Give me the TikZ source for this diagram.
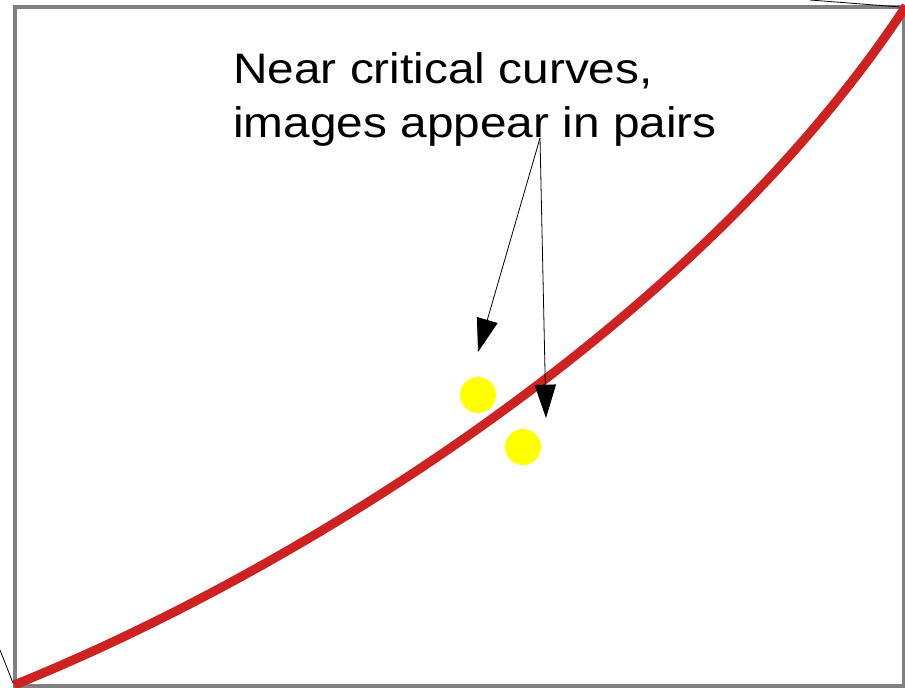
\documentclass[tikz,border=0pt]{standalone}
\usepackage{fontspec}
\setmainfont{Liberation Sans}
\newfontfamily\capfont[FakeStretch=1.12]{Liberation Sans}
\usetikzlibrary{arrows.meta,positioning}
\definecolor{crit}{RGB}{206,34,34}
\definecolor{panel}{RGB}{128,128,128}
\definecolor{imgcol}{RGB}{255,255,0}

\begin{document}
\begin{tikzpicture}[x=0.75pt, y=-0.75pt,
  every node/.style={font=\capfont\fontsize{32}{40.5}\selectfont},
  imgdot/.style={circle, fill=imgcol, minimum size=27pt, inner sep=0pt},
  pointer/.style={-{Triangle[length=25pt,width=16pt]}, line width=0.6pt}]
\useasboundingbox (0,0) rectangle (905,687);
% panel frame
\draw[panel, line width=3pt] (15,7) rectangle (904,686);
% stray lines at the corners
\draw[line width=0.6pt] (810,0) -- (900,7);
\draw[line width=0.6pt] (0,650) -- (13,683);
% critical curve
\draw[crit, line width=6.8pt]
  (14,685) .. controls (300,570) and (700,320) .. (906,6);
% image pair
\node[imgdot] (imgA) at (478,395) {};
\node[imgdot] (imgB) at (523,447) {};
% caption and pointers
\node[anchor=north west, align=left, inner sep=0pt] (caption) at (233,52)
  {Near critical curves,\\images appear in pairs};
\coordinate (split) at (540,138);
\coordinate (tipA) at (478,352);
\coordinate (tipB) at (546,418);
\draw[pointer] (split) -- (tipA);
\draw[pointer] (split) -- (tipB);
\end{tikzpicture}
\end{document}
